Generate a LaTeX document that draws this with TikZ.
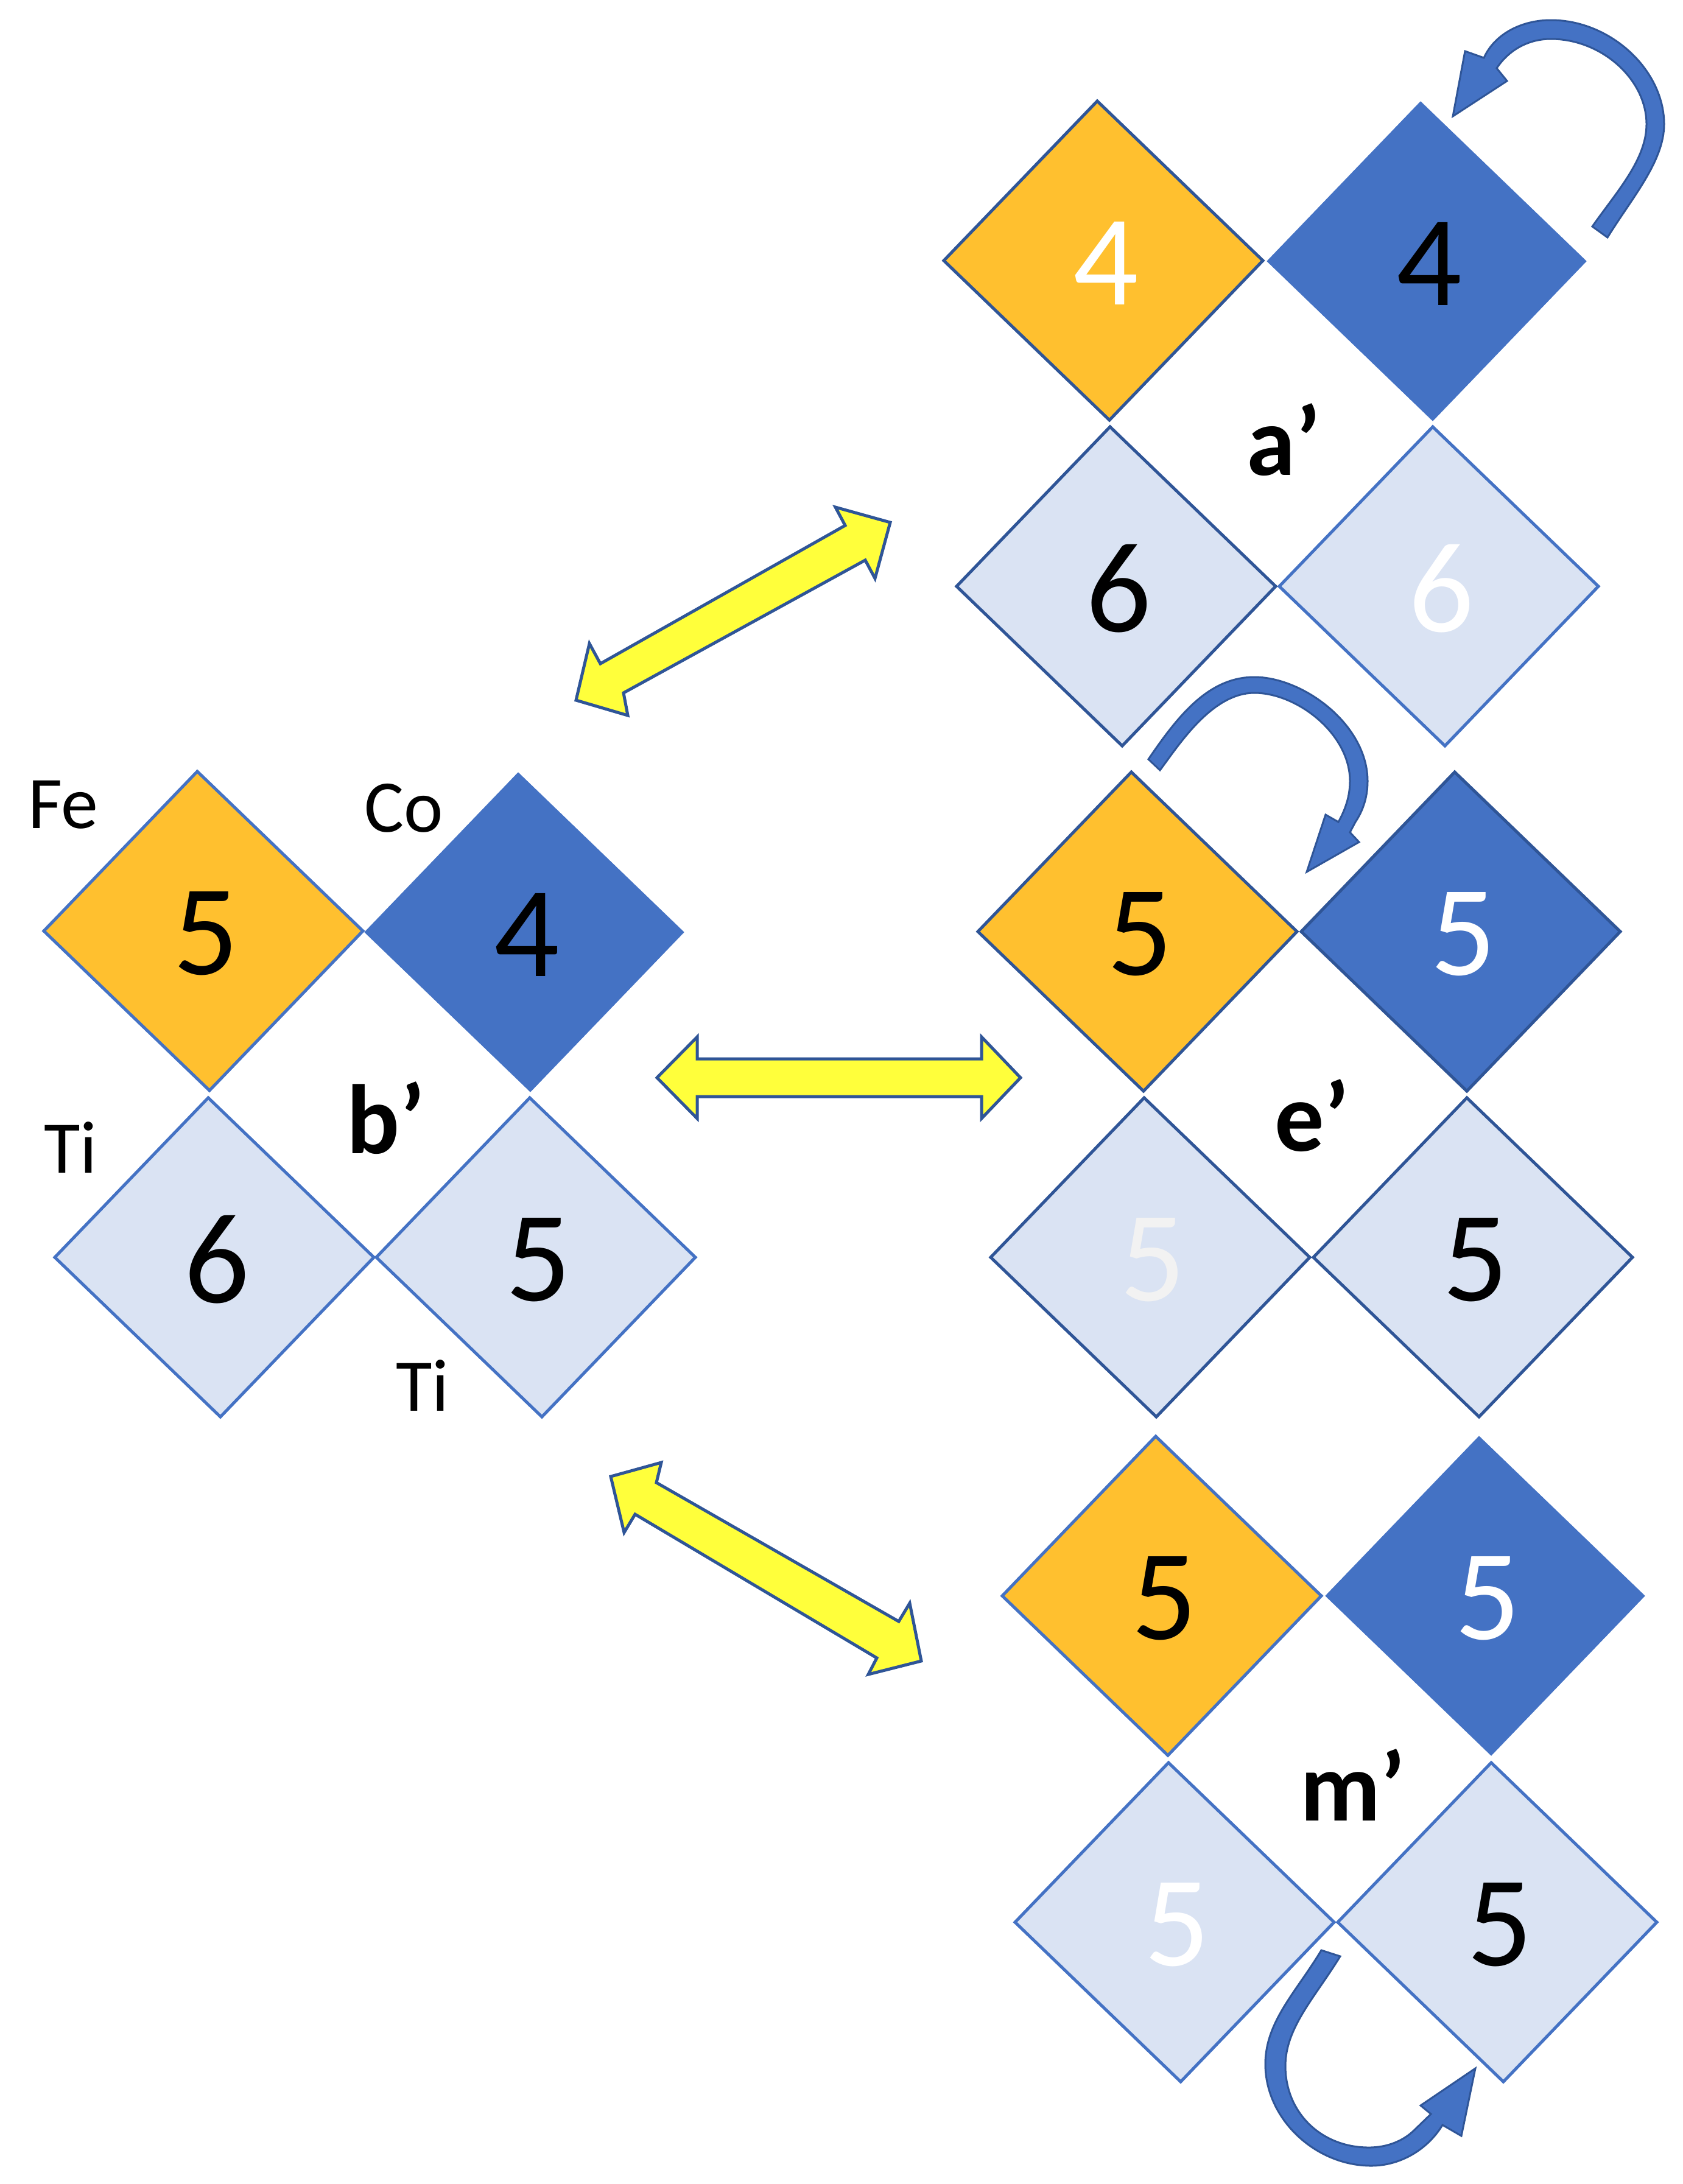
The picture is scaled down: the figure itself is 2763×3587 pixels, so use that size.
\documentclass[tikz,border=0pt]{standalone}
\usepackage{fontspec}
\setmainfont{Carlito}
\definecolor{ambr}{HTML}{FFC02F}
\definecolor{cblue}{HTML}{4472C4}
\definecolor{dkblue}{HTML}{2F5597}
\definecolor{pale}{HTML}{DAE3F3}
\definecolor{yell}{HTML}{FFFF3B}
\definecolor{offw}{HTML}{F2F2F2}
\tikzset{
  digit/.style={font=\fontsize{212}{212}\selectfont, inner sep=0pt, anchor=center},
  tag/.style={font=\fontsize{122}{122}\selectfont, inner sep=0pt, text=black},
  caselabel/.style={font=\fontsize{162}{162}\selectfont\bfseries, inner sep=0pt, text=black},
  dk/.style={draw=dkblue, line width=5pt},
  lt/.style={draw=cblue, line width=5pt},
  nob/.style={draw=cblue, line width=1pt},
  twoway/.style={fill=yell, draw=dkblue, line width=5pt, line join=miter},
  turn/.style={fill=cblue, draw=dkblue, line width=3pt, line join=miter}
}
% name, cx, cy, border style, fill, digit colour, digit
\newcommand{\rhomb}[7]{%
  \path[#4, fill=#5] (#2-262,#3) -- (#2-10,#3-262) -- (#2+262,#3) -- (#2+10,#3+262) -- cycle;
  \node[digit, text=#6] (#1) at (#2+4,#3+4) {#7};
}
\begin{document}
\begin{tikzpicture}[x=1pt,y=-1pt]
\useasboundingbox (0,0) rectangle (2763,3587);
% a'
\rhomb{aFe}{1812}{428}{dk}{ambr}{white}{4}
\rhomb{aCo}{2343}{429}{nob}{cblue}{black}{4}
\rhomb{aTi}{1833}{963}{dk}{pale}{black}{6}
\rhomb{aTj}{2363}{963}{lt}{pale}{white}{6}
\node[caselabel] (alab) at (2108,722) {a’};
% b'
\rhomb{bFe}{334}{1529}{lt}{ambr}{black}{5}
\rhomb{bCo}{861}{1531}{nob}{cblue}{black}{4}
\rhomb{bTi}{352}{2065}{lt}{pale}{black}{6}
\rhomb{bTj}{880}{2065}{lt}{pale}{black}{5}
\node[caselabel] (blab) at (634,1836) {b’};
\node[tag] (fe) at (104,1322) {Fe};
\node[tag] (co) at (663,1327) {Co};
\node[tag] (ti1) at (116,1885) {Ti};
\node[tag] (ti2) at (694,2276) {Ti};
% e'
\rhomb{eFe}{1868}{1530}{dk}{ambr}{black}{5}
\rhomb{eCo}{2399}{1530}{dk}{cblue}{white}{5}
\rhomb{eTi}{1889}{2065}{dk}{pale}{offw}{5}
\rhomb{eTj}{2419}{2065}{dk}{pale}{black}{5}
\node[caselabel] (elab) at (2155,1832) {e’};
% m'
\rhomb{mFe}{1908}{2621}{lt}{ambr}{black}{5}
\rhomb{mCo}{2439}{2621}{nob}{cblue}{white}{5}
\rhomb{mTi}{1929}{3157}{lt}{pale}{white}{5}
\rhomb{mTj}{2459}{3157}{lt}{pale}{black}{5}
\node[caselabel] (mlab) at (2222,2932) {m’};
% yellow double arrows
\draw[twoway] (1462,858) -- (1372,833) -- (1388,863) -- (986,1090) -- (968,1057) -- (946,1150)
  -- (1031,1175) -- (1024,1138) -- (1421,920) -- (1437,950) -- cycle;
\draw[twoway] (1079,1770) -- (1145,1703) -- (1145,1739) -- (1612,1739) -- (1612,1703) -- (1676,1770)
  -- (1612,1837) -- (1612,1801) -- (1145,1801) -- (1145,1837) -- cycle;
\draw[twoway] (1003,2425) -- (1086,2402) -- (1078,2435) -- (1476,2663) -- (1494,2633) -- (1513,2728)
  -- (1426,2750) -- (1440,2723) -- (1043,2487) -- (1025,2517) -- cycle;
% blue curved arrows
\draw[turn] (2615,372) -- (2640,390) .. controls (2680,325) and (2733,265) .. (2733,204)
  .. controls (2733,115) and (2645,33) .. (2547,33) .. controls (2500,33) and (2455,55) .. (2437,95)
  -- (2406,84) -- (2386,191) -- (2475,133) -- (2458,112)
  .. controls (2478,82) and (2510,64) .. (2547,64) .. controls (2630,64) and (2704,130) .. (2704,204)
  .. controls (2704,262) and (2655,315) .. cycle;
\draw[turn] (1886,1247) -- (1905,1265) .. controls (1935,1225) and (1990,1138) .. (2060,1138)
  .. controls (2130,1138) and (2217,1205) .. (2217,1283) .. controls (2217,1310) and (2208,1332) .. (2198,1350)
  -- (2177,1338) -- (2146,1432) -- (2232,1383) -- (2217,1367) -- (2226,1350)
  .. controls (2238,1332) and (2246,1310) .. (2246,1283) .. controls (2246,1190) and (2140,1112) .. (2060,1112)
  .. controls (1985,1112) and (1935,1175) .. cycle;
\draw[turn] (2170,3203) -- (2201,3213) .. controls (2160,3280) and (2111,3330) .. (2111,3393)
  .. controls (2111,3470) and (2170,3527) .. (2248,3527) .. controls (2280,3527) and (2305,3515) .. (2321,3500)
  -- (2350,3472) -- (2333,3458) -- (2423,3397) -- (2400,3508) -- (2369,3490)
  .. controls (2345,3530) and (2300,3557) .. (2252,3557) .. controls (2160,3557) and (2078,3480) .. (2078,3390)
  .. controls (2078,3320) and (2130,3270) .. cycle;
\end{tikzpicture}
\end{document}
